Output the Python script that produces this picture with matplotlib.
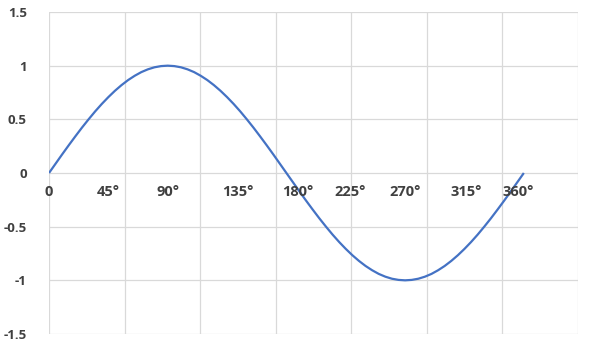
import numpy as np
import matplotlib
matplotlib.use("Agg")
import matplotlib.pyplot as plt

# angles (degrees) and sine values, every 5 degrees
angles_deg = list(range(0, 365, 5))
values = [0.000, 0.087, 0.174, 0.259, 0.342, 0.423, 0.500, 0.574, 0.643, 0.707,
          0.766, 0.819, 0.866, 0.906, 0.940, 0.966, 0.985, 0.996, 1.000,
          0.996, 0.985, 0.966, 0.940, 0.906, 0.866, 0.819, 0.766, 0.707,
          0.643, 0.574, 0.500, 0.423, 0.342, 0.259, 0.174, 0.087, 0.000,
          -0.087, -0.174, -0.259, -0.342, -0.423, -0.500, -0.574, -0.643, -0.707,
          -0.766, -0.819, -0.866, -0.906, -0.940, -0.966, -0.985, -0.996, -1.000,
          -0.996, -0.985, -0.966, -0.940, -0.906, -0.866, -0.819, -0.766, -0.707,
          -0.643, -0.574, -0.500, -0.423, -0.342, -0.259, -0.174, -0.087, 0.000]

# degree labels written along the zero line
label_deg = [0, 45, 90, 135, 180, 225, 270, 315, 360]
label_text = ["0", "45°", "90°", "135°", "180°", "225°", "270°", "315°", "360°"]

y_ticks = [-1.5, -1, -0.5, 0, 0.5, 1, 1.5]
y_tick_labels = ["-1.5", "-1", "-0.5", "0", "0.5", "1", "1.5"]

grid_col = "#d9d9d9"
text_col = "#404040"
line_col = "#4472c4"
font = "Open Sans"

fig = plt.figure(figsize=(5.92, 3.45), dpi=100)
ax = fig.add_axes([49 / 592, 1 - 334 / 345, (578 - 49) / 592, (334 - 12) / 345])

ax.set_xlim(0, 7)
ax.set_ylim(-1.5, 1.5)
ax.set_xticks(np.arange(0, 8, 1))
ax.set_xticklabels([])
ax.set_yticks(y_ticks)
ax.set_yticklabels(y_tick_labels, fontfamily=font, fontweight="bold", fontsize=9.5, color=text_col)
ax.tick_params(axis="both", length=0)
ax.tick_params(axis="y", pad=16)
ax.grid(True, color=grid_col, linewidth=0.9)
ax.set_axisbelow(True)
for s in ax.spines.values():
    s.set_visible(False)

x = np.deg2rad(angles_deg)
ax.plot(x, values, color=line_col, linewidth=1.6, solid_capstyle="butt", solid_joinstyle="round")

# small manual nudges (pixels) like the hand-placed text boxes in the original
nudge_px = [0, 0, 0, 11, 11, 4, 0, 2, -6]
for d, t, n in zip(label_deg, label_text, nudge_px):
    ax.annotate(t, xy=(np.deg2rad(d), 0), xytext=(n, -19), textcoords="offset pixels",
                ha="center", va="center", fontfamily=font, fontweight="bold",
                fontsize=10.5, color=text_col)

fig.savefig("out.png", dpi=100)
